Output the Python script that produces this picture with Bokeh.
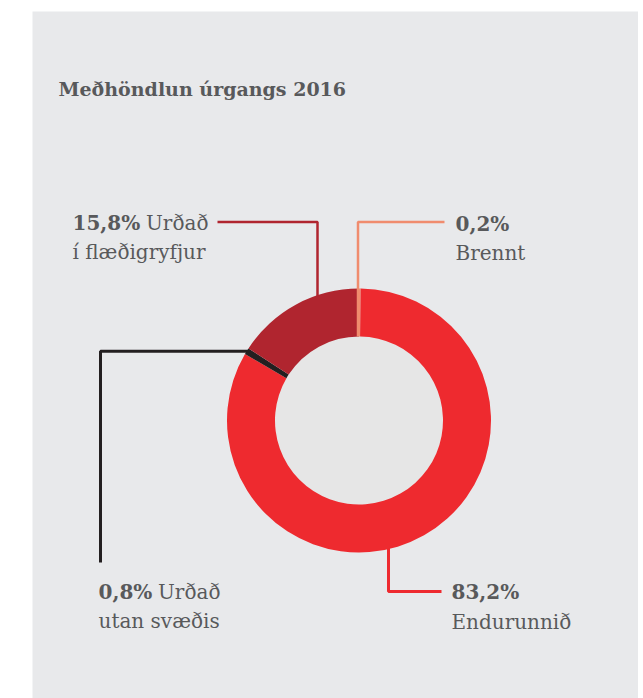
import math
from bokeh.plotting import figure
from bokeh.models import Range1d
from bokeh.core.properties import value
from bokeh.embed import file_html
from bokeh.resources import INLINE

# ---- data ----
title_text = "Meðhöndlun úrgangs 2016"
categories = ["Brennt", "Endurunnið", "Urðað utan svæðis", "Urðað í flæðigryfjur"]
values = [0.2, 83.2, 0.8, 15.8]          # clockwise from 12 o'clock
pct_labels = ["0,2%", "83,2%", "0,8%", "15,8%"]
colors = ["#f08c6e", "#ee2a2f", "#231f20", "#b0252f"]

# ---- layout helpers (screen px -> data) ----
W, H = 638, 698
def sx(x):
    return x
def sy(y):
    return H - y

TEXT = "#58595b"
FONT = value("DejaVu Serif")
PANEL = "#e8e9eb"

p = figure(width=W, height=H, x_range=Range1d(0, W), y_range=Range1d(0, H),
           output_backend="svg", toolbar_location=None, min_border=0,
           x_axis_type=None, y_axis_type=None)
p.grid.visible = False
p.outline_line_color = None
p.background_fill_color = "white"
p.border_fill_color = "white"

# panel
p.quad(left=sx(32), right=W, top=sy(11), bottom=0, fill_color=PANEL, line_color=None)

# donut geometry
cx, cy = sx(358.5), sy(420)
R_OUT, R_IN = 132, 84

total = sum(values)
cum = [0]
for v in values:
    cum.append(cum[-1] + v)
starts = [90 - c / total * 360 for c in cum[:-1]]
ends = [90 - c / total * 360 for c in cum[1:]]

def ring_y_at(x_screen, r, top=True):
    dx = sx(x_screen) - cx
    dy = math.sqrt(max(r * r - dx * dx, 0))
    return cy + dy if top else cy - dy

# leader lines drawn under ring
# Urðað í flæðigryfjur
p.line([sx(217), sx(317), sx(317)], [sy(221.5), sy(221.5), ring_y_at(317, R_OUT - 10)],
       line_color=colors[3], line_width=2.5)
# Urðað utan svæðis (from slice middle on outer edge)
f_mid = (cum[2] + cum[3]) / 2 / total
ax = cx + R_OUT * math.sin(2 * math.pi * f_mid)
ay = cy + R_OUT * math.cos(2 * math.pi * f_mid)
p.line([ax + 4, sx(100), sx(100)], [ay, ay, sy(562)], line_color=colors[2], line_width=3)
# Endurunnið
p.line([sx(388), sx(388), sx(441)], [ring_y_at(388, R_OUT - 10, top=False), sy(591), sy(591)],
       line_color=colors[1], line_width=3)

# inner disc
p.circle(x=[cx], y=[cy], radius=R_IN, fill_color="#e6e6e6", line_color=None)

# ring
p.annular_wedge(x=[cx] * 4, y=[cy] * 4, inner_radius=R_IN, outer_radius=R_OUT,
                start_angle=starts, end_angle=ends, start_angle_units="deg",
                end_angle_units="deg", direction="clock",
                fill_color=colors, line_color=None)

# Brennt leader line (over ring)
p.line([sx(357.5), sx(357.5), sx(444)], [cy + R_IN, sy(221.5), sy(221.5)],
       line_color=colors[0], line_width=2.5)

# title
p.text(x=[sx(58)], y=[sy(88.5)], text=[title_text], text_font=FONT, text_font_size="19px",
       text_font_style="bold", text_color=TEXT, text_baseline="alphabetic", text_align="left")

def label(x_bold, x_rest, y1, bold, rest1, line2):
    p.text(x=[sx(x_bold)], y=[sy(y1)], text=[bold], text_font=FONT, text_font_size="20px",
           text_font_style="bold", text_color=TEXT, text_baseline="alphabetic")
    if rest1:
        p.text(x=[sx(x_rest)], y=[sy(y1)], text=[rest1], text_font=FONT, text_font_size="20px",
               text_color=TEXT, text_baseline="alphabetic")
    p.text(x=[sx(x_bold)], y=[sy(y1 + 29.5)], text=[line2], text_font=FONT, text_font_size="20px",
           text_color=TEXT, text_baseline="alphabetic")

label(72, 145.5, 222, pct_labels[3], "Urðað", "í flæðigryfjur")
label(455, 0, 223, pct_labels[0], "", categories[0])
label(98, 157.5, 591, pct_labels[2], "Urðað", "utan svæðis")
label(451, 0, 591.5, pct_labels[1], "", categories[1])

open("out.html", "w").write(file_html(p, INLINE))
